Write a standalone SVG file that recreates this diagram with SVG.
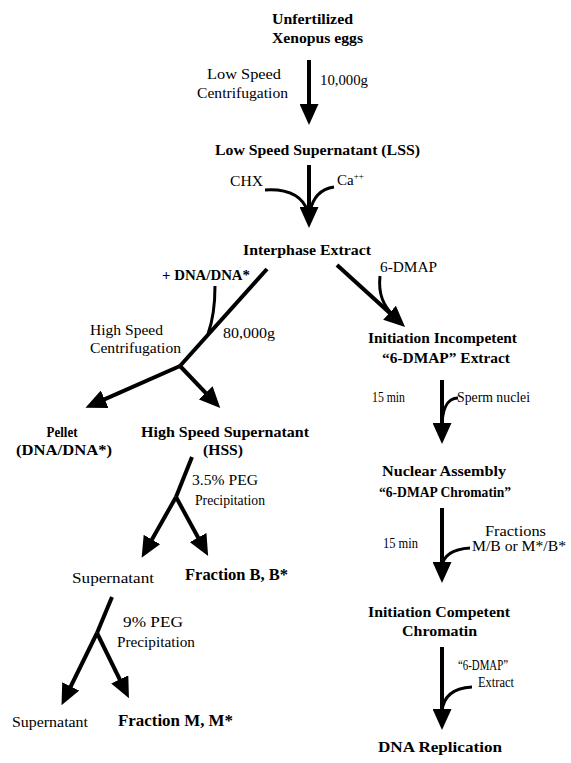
<svg xmlns="http://www.w3.org/2000/svg" width="571" height="763" viewBox="0 0 571 763">
<style>
text{font-family:"Liberation Serif","Times New Roman",serif;fill:#000}
.b{font-weight:bold;font-size:15px}
.r{font-size:15px}
.s{font-size:14px}
.big{font-weight:bold;font-size:16.5px}
.c{text-anchor:middle}
.ln{stroke:#000;stroke-width:4;fill:none}
.cv{stroke:#000;stroke-width:3;fill:none}
</style>
<defs>
<marker id="ah" markerUnits="userSpaceOnUse" markerWidth="21" markerHeight="19" refX="4" refY="9.5" orient="auto" viewBox="0 0 21 19">
<path d="M0,0 L21,9.5 L0,19 z" fill="#000"/>
</marker>
</defs>
<rect width="571" height="763" fill="#fff"/>

<g id="eggs">
<text class="b c" x="312.5" y="24" textLength="81" lengthAdjust="spacingAndGlyphs">Unfertilized</text>
<text class="b c" x="317.5" y="43" textLength="91" lengthAdjust="spacingAndGlyphs">Xenopus eggs</text>
</g>
<g id="lss">
<text class="b c" x="317.5" y="155" textLength="205" lengthAdjust="spacingAndGlyphs">Low Speed Supernatant (LSS)</text>
</g>
<g id="interphase">
<text class="b c" x="307" y="255" textLength="128" lengthAdjust="spacingAndGlyphs">Interphase Extract</text>
</g>
<g id="pellet">
<text class="b c" x="62" y="437" textLength="31" lengthAdjust="spacingAndGlyphs">Pellet</text>
<text class="b c" x="64" y="455" textLength="96" lengthAdjust="spacingAndGlyphs">(DNA/DNA*)</text>
</g>
<g id="hss">
<text class="b c" x="225" y="437" textLength="168" lengthAdjust="spacingAndGlyphs">High Speed Supernatant</text>
<text class="b c" x="223" y="455" textLength="40" lengthAdjust="spacingAndGlyphs">(HSS)</text>
</g>
<g id="supernatant1">
<text class="r" x="72" y="583" textLength="82" lengthAdjust="spacingAndGlyphs">Supernatant</text>
</g>
<g id="fractionB">
<text class="big" x="185" y="580" textLength="103" lengthAdjust="spacingAndGlyphs">Fraction B, B*</text>
</g>
<g id="supernatant2">
<text class="r" x="12" y="727" textLength="76" lengthAdjust="spacingAndGlyphs">Supernatant</text>
</g>
<g id="fractionM">
<text class="big" x="118" y="726" textLength="115" lengthAdjust="spacingAndGlyphs">Fraction M, M*</text>
</g>
<g id="incompetent">
<text class="b c" x="442.5" y="343" textLength="149" lengthAdjust="spacingAndGlyphs">Initiation Incompetent</text>
<text class="b c" x="446" y="363" textLength="128" lengthAdjust="spacingAndGlyphs">“6-DMAP” Extract</text>
</g>
<g id="nuclear">
<text class="b c" x="444" y="476" textLength="124" lengthAdjust="spacingAndGlyphs">Nuclear Assembly</text>
<text class="b c" x="445" y="497" textLength="132" lengthAdjust="spacingAndGlyphs">“6-DMAP Chromatin”</text>
</g>
<g id="competent">
<text class="b c" x="439" y="617" textLength="142" lengthAdjust="spacingAndGlyphs">Initiation Competent</text>
<text class="b c" x="439.5" y="636" textLength="75" lengthAdjust="spacingAndGlyphs">Chromatin</text>
</g>
<g id="replication">
<text class="b c" x="440" y="752" textLength="124" lengthAdjust="spacingAndGlyphs">DNA Replication</text>
</g>

<g id="labels">
<text class="r" x="207" y="79" textLength="74" lengthAdjust="spacingAndGlyphs">Low Speed</text>
<text class="r" x="197" y="98" textLength="91" lengthAdjust="spacingAndGlyphs">Centrifugation</text>
<text class="r" x="320" y="85" textLength="48" lengthAdjust="spacingAndGlyphs">10,000g</text>
<text class="r" x="230" y="186" textLength="33" lengthAdjust="spacingAndGlyphs">CHX</text>
<text class="r" x="337" y="185">Ca<tspan font-size="9" dy="-6">++</tspan></text>
<text class="b" x="162" y="280" textLength="88" lengthAdjust="spacingAndGlyphs">+ DNA/DNA*</text>
<text class="r" x="380" y="272" textLength="57" lengthAdjust="spacingAndGlyphs">6-DMAP</text>
<text class="r" x="90" y="335" textLength="73" lengthAdjust="spacingAndGlyphs">High Speed</text>
<text class="r" x="90" y="353" textLength="91" lengthAdjust="spacingAndGlyphs">Centrifugation</text>
<text class="r" x="223" y="338" textLength="52" lengthAdjust="spacingAndGlyphs">80,000g</text>
<text class="r" x="192" y="485" textLength="66" lengthAdjust="spacingAndGlyphs">3.5% PEG</text>
<text class="r" x="195" y="505" textLength="70" lengthAdjust="spacingAndGlyphs">Precipitation</text>
<text class="r" x="123" y="627" textLength="60" lengthAdjust="spacingAndGlyphs">9%  PEG</text>
<text class="r" x="117" y="647" textLength="78" lengthAdjust="spacingAndGlyphs">Precipitation</text>
<text class="s" x="372" y="402" textLength="33" lengthAdjust="spacingAndGlyphs">15 min</text>
<text class="r" x="457" y="402" textLength="73" lengthAdjust="spacingAndGlyphs">Sperm nuclei</text>
<text class="s" x="383" y="548" textLength="35" lengthAdjust="spacingAndGlyphs">15 min</text>
<text class="r" x="485" y="536" textLength="61" lengthAdjust="spacingAndGlyphs">Fractions</text>
<text class="r" x="472" y="551" textLength="94" lengthAdjust="spacingAndGlyphs">M/B or M*/B*</text>
<text class="s" x="458" y="670" textLength="50" lengthAdjust="spacingAndGlyphs">“6-DMAP”</text>
<text class="s" x="478" y="687" textLength="36" lengthAdjust="spacingAndGlyphs">Extract</text>
</g>

<g id="connectors">
<line class="ln" x1="309" y1="60" x2="309" y2="108" marker-end="url(#ah)"/>
<line class="ln" x1="309" y1="165" x2="309" y2="211" marker-end="url(#ah)"/>
<path class="cv" d="M265,190 Q300,188 308,212"/>
<path class="cv" d="M334,187 Q314,190 310,212"/>
<line class="ln" x1="337" y1="265" x2="392.5" y2="315.5" marker-end="url(#ah)"/>
<path class="cv" d="M380,276 C378,295 384,306 393,315"/>
<line class="ln" x1="267" y1="269" x2="180" y2="366"/>
<path class="cv" d="M215,286 C215,305 213,320 208,334"/>
<line class="ln" x1="180" y1="366" x2="101" y2="400.8" marker-end="url(#ah)"/>
<line class="ln" x1="180" y1="366" x2="208.5" y2="395.8" marker-end="url(#ah)"/>
<line class="ln" x1="192" y1="457" x2="176" y2="497"/>
<line class="ln" x1="176" y1="497" x2="150" y2="543" marker-end="url(#ah)"/>
<line class="ln" x1="176" y1="497" x2="200" y2="541" marker-end="url(#ah)"/>
<line class="ln" x1="112" y1="597" x2="97" y2="633"/>
<line class="ln" x1="97" y1="633" x2="69" y2="690" marker-end="url(#ah)"/>
<line class="ln" x1="97" y1="633" x2="121.5" y2="683" marker-end="url(#ah)"/>
<line class="ln" x1="442" y1="380" x2="442" y2="427" marker-end="url(#ah)"/>
<path class="cv" d="M458,398 C447,398 442,410 442,428"/>
<line class="ln" x1="442" y1="508" x2="442" y2="566" marker-end="url(#ah)"/>
<path class="cv" d="M470,548 C454,549 443,555 442,567"/>
<line class="ln" x1="442" y1="647" x2="442" y2="713" marker-end="url(#ah)"/>
<path class="cv" d="M472,687 C455,688 443,695 442,712"/>
</g>
</svg>
